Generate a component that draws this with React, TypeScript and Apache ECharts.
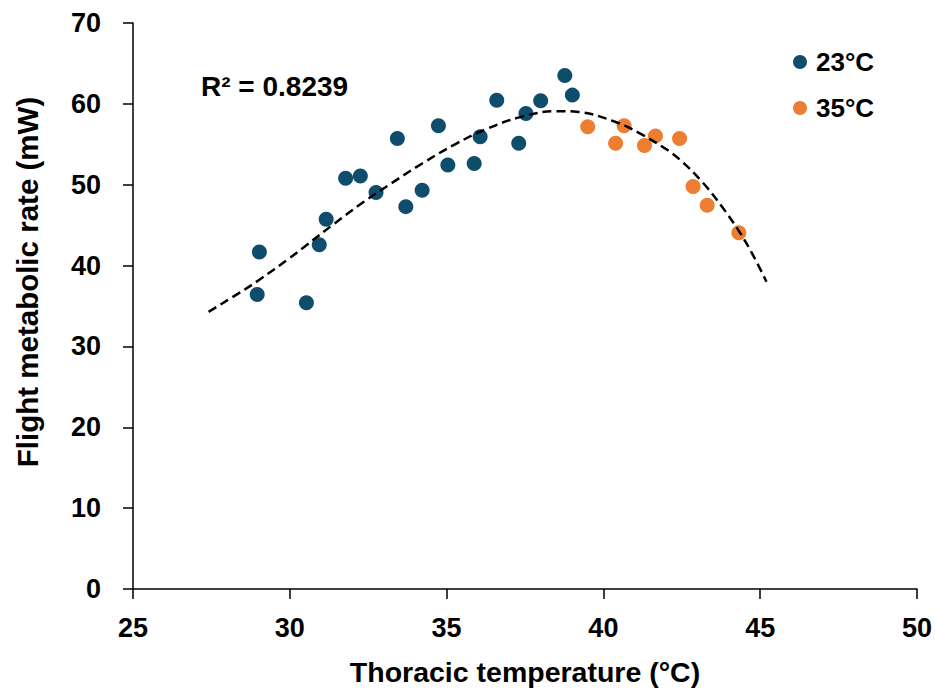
import React, { useEffect, useRef } from "react";
import * as echarts from "echarts";

const FONT = "'Liberation Sans', Arial, sans-serif";

// 23°C group
const temp23X = [29.03, 28.96, 30.53, 30.94, 31.16, 31.78, 32.25, 32.75, 33.43, 33.70, 34.22, 34.74, 35.04, 35.88, 36.07, 36.60, 37.30, 37.53, 38.00, 38.77, 39.01];
const rate23Y = [41.67, 36.43, 35.40, 42.58, 45.72, 50.80, 51.08, 49.03, 55.72, 47.29, 49.31, 57.28, 52.45, 52.62, 55.92, 60.46, 55.14, 58.82, 60.38, 63.50, 61.08];

// 35°C group
const temp35X = [39.50, 40.39, 40.66, 41.31, 41.66, 42.43, 42.86, 43.31, 44.32];
const rate35Y = [57.16, 55.14, 57.28, 54.85, 56.04, 55.72, 49.77, 47.46, 44.07];

// trend line
const trendX = [27.41, 28.53, 29.03, 29.96, 30.49, 31.39, 32.35, 33.25, 34.21, 35.27, 36.28, 37.39, 38.51, 39.20, 40.33, 41.16, 41.96, 42.44, 43.16, 43.76, 44.35, 44.77, 45.20];
const trendY = [34.28, 36.96, 38.25, 40.82, 42.40, 45.10, 47.85, 50.20, 52.60, 55.00, 56.90, 58.40, 59.10, 59.00, 57.85, 56.35, 54.50, 53.10, 50.30, 47.40, 44.10, 41.30, 38.00];

const seriesNames = ["23°C", "35°C"];
const rSquaredLabel = "R² = 0.8239";
const xTitle = "Thoracic temperature (°C)";
const yTitle = "Flight metabolic rate (mW)";

const zip = (xs: number[], ys: number[]) => xs.map((x, i) => [x, ys[i]]);

export default function App() {
  const ref = useRef<HTMLDivElement>(null);
  useEffect(() => {
    if (!ref.current) return;
    const chart = echarts.init(ref.current, null, { renderer: "svg" });
    const axisCommon = {
      axisLine: { show: true, lineStyle: { color: "#000", width: 1.5 } },
      axisTick: { show: true, inside: false, length: 10, lineStyle: { color: "#000", width: 1.5 } },
      splitLine: { show: false },
    };
    chart.setOption({
      animation: false,
      backgroundColor: "#fff",
      grid: { left: 133, right: 18, top: 23, bottom: 107, containLabel: false },
      xAxis: {
        type: "value",
        min: 25,
        max: 50,
        interval: 5,
        ...axisCommon,
        axisLabel: { color: "#000", fontFamily: FONT, fontWeight: "bold", fontSize: 27, margin: 25 },
        name: xTitle,
        nameLocation: "middle",
        nameGap: 68,
        nameTextStyle: { color: "#000", fontFamily: FONT, fontWeight: "bold", fontSize: 28.5 },
      },
      yAxis: {
        type: "value",
        min: 0,
        max: 70,
        interval: 10,
        ...axisCommon,
        axisLabel: { color: "#000", fontFamily: FONT, fontWeight: "bold", fontSize: 27, margin: 32 },
      },
      legend: {
        orient: "vertical",
        left: 788,
        top: 44,
        itemWidth: 14,
        itemHeight: 14,
        itemGap: 20,
        icon: "circle",
        data: seriesNames,
        textStyle: { color: "#000", fontFamily: FONT, fontWeight: "bold", fontSize: 26, padding: [0, 0, 0, 4] },
      },
      graphic: [
        {
          type: "text",
          left: 201,
          top: 72,
          style: { text: rSquaredLabel, fill: "#000", font: `bold 28px ${FONT}` },
        },
        {
          type: "text",
          x: 27,
          y: 282,
          rotation: Math.PI / 2,
          style: {
            text: yTitle,
            fill: "#000",
            font: `bold 29.5px ${FONT}`,
            align: "center",
            verticalAlign: "middle",
          },
        },
      ],
      series: [
        {
          name: seriesNames[0],
          type: "scatter",
          symbol: "circle",
          symbolSize: 15,
          itemStyle: { color: "#0e4e6c", opacity: 1 },
          data: zip(temp23X, rate23Y),
          z: 2,
        },
        {
          name: seriesNames[1],
          type: "scatter",
          symbol: "circle",
          symbolSize: 15,
          itemStyle: { color: "#ed7d31", opacity: 1 },
          data: zip(temp35X, rate35Y),
          z: 2,
        },
        {
          name: "trend",
          type: "line",
          smooth: 0.4,
          showSymbol: false,
          symbol: "none",
          lineStyle: { color: "#000", width: 2.5, type: [9, 5] },
          data: zip(trendX, trendY),
          z: 3,
        },
      ],
    });
    return () => chart.dispose();
  }, []);
  return (
    <div
      ref={ref}
      style={{ position: "fixed", left: 0, top: 0, width: 935, height: 696, background: "#fff" }}
    />
  );
}
